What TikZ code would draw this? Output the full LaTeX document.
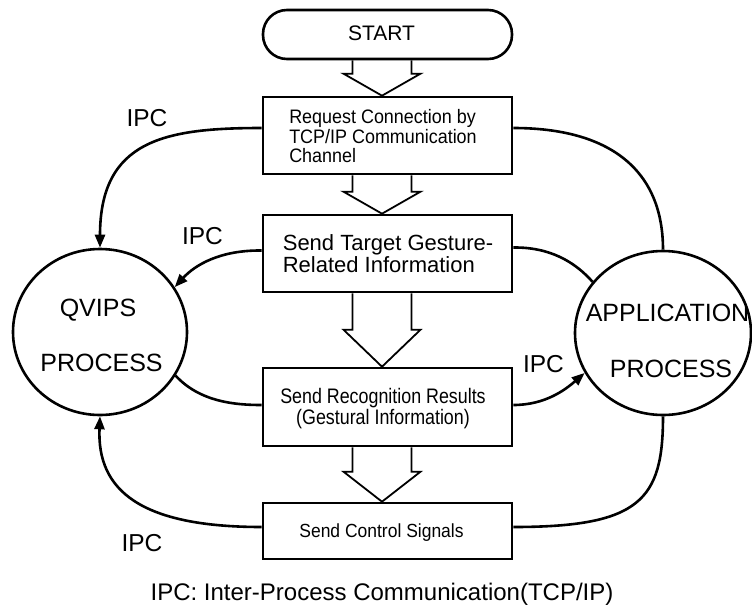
\documentclass[tikz,border=0pt]{standalone}
\usepackage{fontspec}
\setmainfont{Liberation Sans}
\newfontfamily\boxsans[FakeStretch=0.92]{Liberation Sans}
\newfontfamily\narrowsans[FakeStretch=0.85]{Liberation Sans}
\usetikzlibrary{calc,arrows.meta,shapes.geometric}

\tikzset{
  stepbox/.style={draw, line width=2.6pt, minimum width=249pt, inner sep=0pt},
  startbox/.style={draw, line width=2.6pt, rounded corners=24pt,
    minimum width=249pt, minimum height=49pt, inner sep=0pt},
  proc/.style={draw, ellipse, line width=2.6pt, inner sep=0pt},
  link/.style={line width=2.6pt},
  flow/.style={link, -{Triangle[length=13pt,width=10pt]}},
  hollow/.style={line width=1.8pt, line join=miter},
  ipc/.style={anchor=base, font=\fontsize{24.5}{28}\selectfont},
  proctext/.style={anchor=base, font=\fontsize{25}{30}\selectfont},
}

% open block arrow between two stacked boxes: from #1 down to #2, head length #3
\newcommand\hollowstep[3]{%
  \draw[hollow]
    ($(ax |- #1.south)+(-29.5,0)$) -- ($(ax |- #2.north)+(-29.5,-#3)$)
    -- ($(ax |- #2.north)+(-38.5,-#3)$) -- (ax |- #2.north)
    -- ($(ax |- #2.north)+(38.5,-#3)$) -- ($(ax |- #2.north)+(29.5,-#3)$)
    -- ($(ax |- #1.south)+(29.5,0)$);}

\begin{document}
\begin{tikzpicture}[x=1pt,y=-1pt]
\useasboundingbox (0,0) rectangle (752,611);

% axis of the block arrows
\coordinate (ax) at (382,0);

% flow boxes
\node[startbox] (start) at (387.5,34.5) {};
\node[stepbox, minimum height=77pt] (b1) at (387.5,135.5) {};
\node[stepbox, minimum height=77pt] (b2) at (387.5,253.5) {};
\node[stepbox, minimum height=78pt] (b3) at (387.5,407) {};
\node[stepbox, minimum height=56pt] (b4) at (387.5,531) {};

% processes
\node[proc, minimum width=174pt, minimum height=166pt] (qv) at (100,332) {};
\node[proc, minimum width=176pt, minimum height=164pt] (app) at (663,333) {};

% box texts
\node[anchor=base, font=\fontsize{21}{25}\selectfont] (startt) at (381.5,40.5) {START};
\node[align=left, font=\boxsans\fontsize{19.5}{19.5}\selectfont] (b1t) at (383,136.4)
  {Request Connection by\\TCP/IP Communication\\Channel};
\node[align=left, font=\fontsize{22}{21.5}\selectfont] (b2t) at (388,253.8)
  {Send Target Gesture-\\Related Information};
\node[align=center, font=\narrowsans\fontsize{21}{21.5}\selectfont] (b3t) at (383,408.8)
  {Send Recognition Results\\(Gestural Information)};
\node[anchor=base, font=\boxsans\fontsize{19}{22}\selectfont] (b4t) at (381.5,537.6)
  {Send Control Signals};

% process texts
\node[proctext] (qv1) at (98,316) {QVIPS};
\node[proctext] (qv2) at (101.5,371) {PROCESS};
\node[proctext] (app1) at (667.5,321) {APPLICATION};
\node[proctext] (app2) at (671,377) {PROCESS};

% block arrows
\hollowstep{start}{b1}{22}
\hollowstep{b1}{b2}{22}
\hollowstep{b2}{b3}{37}
\hollowstep{b3}{b4}{30}

% IPC links
\draw[flow] ($(b1.west)+(0,-7.5)$) .. controls (165,128) and (100,140) .. (qv.north);
\draw[link] ($(b1.east)+(0,-7.5)$) .. controls (610,128) and (663,170) .. (app.north);
\draw[flow] ($(b2.west)+(0,-3)$) .. controls (220,250) and (195,265) .. (qv.31);
\draw[link] ($(b2.east)+(0,-6)$) .. controls (550,247) and (575,262) .. (app.144);
\draw[link] (qv.-30) .. controls (200,402) and (235,405) .. ($(b3.west)+(0,-2)$);
\draw[flow] ($(b3.east)+(0,-2)$) .. controls (545,405) and (565,390) .. (app.-153);
\draw[flow] ($(b4.west)+(0,-4)$) .. controls (140,527) and (97,490) .. (qv.south);
\draw[link] (app.south) .. controls (663,500) and (640,527) .. ($(b4.east)+(0,-4)$);

% labels
\node[ipc] (ipc1) at (147,126) {IPC};
\node[ipc] (ipc2) at (202.5,244) {IPC};
\node[ipc] (ipc3) at (543.5,372) {IPC};
\node[ipc] (ipc4) at (142,551) {IPC};
\node[anchor=base, font=\fontsize{24}{28}\selectfont] (legend) at (382,600.5)
  {IPC: Inter-Process Communication(TCP/IP)};
\end{tikzpicture}
\end{document}
